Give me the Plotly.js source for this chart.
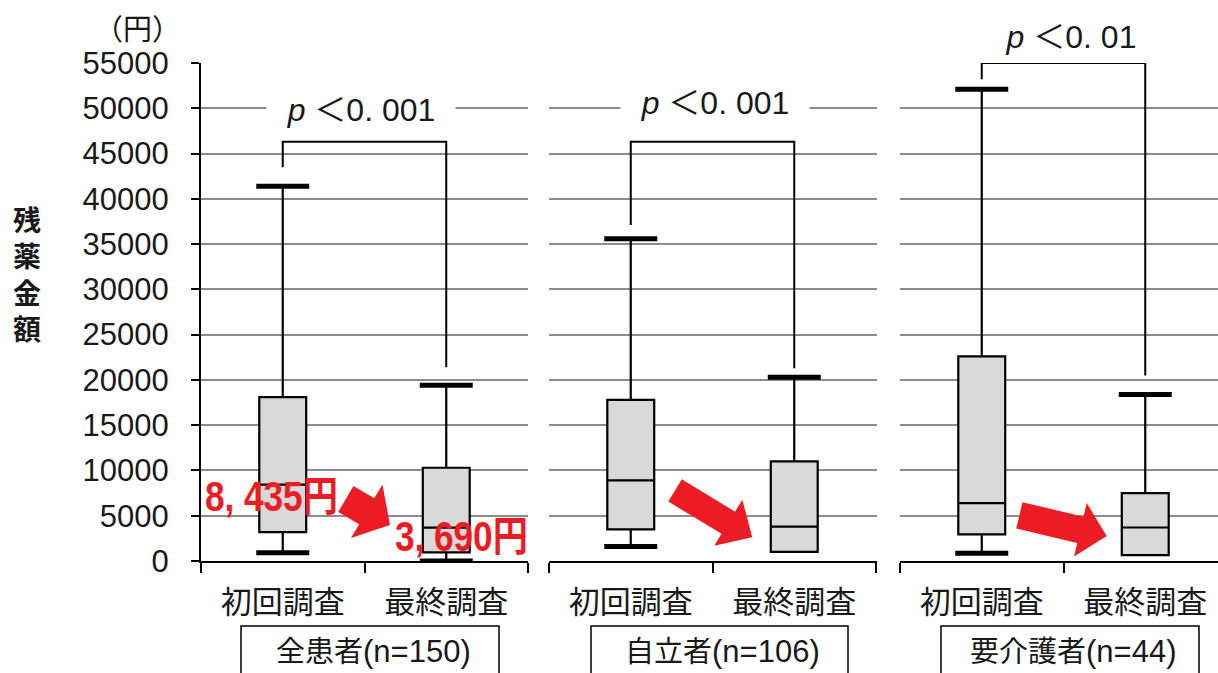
<!DOCTYPE html>
<html>
<head>
<meta charset="utf-8">
<script src="https://cdn.plot.ly/plotly-3.0.1.min.js"></script>
<style>
  html, body { margin: 0; padding: 0; background: #ffffff; }
  #chart { width: 1218px; height: 673px; }
</style>
</head>
<body>
<div id="chart"></div>
<script>
// ---- data ----
const categories = ['初回調査', '最終調査'];
const groupNames = ['全患者', '自立者', '要介護者'];
const groupN = [150, 106, 44];
// residual drug cost (yen), per group: [initial survey, final survey]
const lowerFence = [[900, 0], [1600, 1000], [850, 650]];
const q1 = [[3200, 950], [3500, 1000], [2950, 650]];
const median = [[8435, 3690], [8900, 3800], [6400, 3700]];
const q3 = [[18100, 10300], [17800, 11000], [22600, 7500]];
const upperFence = [[41400, 19400], [35600, 20300], [52100, 18400]];
const pValueText = ['0. 001', '0. 001', '0. 01'];
const yTicks = [0, 5000, 10000, 15000, 20000, 25000, 30000, 35000, 40000, 45000, 50000, 55000];

// ---- geometry ----
const W = 1218, H = 673;
const M = { l: 0, r: 0, t: 63, b: 112 };
const plotH = H - M.t - M.b;
const yMax = 55000;
const panelPx = [[201, 528], [549, 877], [900, 1218]];
const catPx = 163.5;
const xRanges = panelPx.map(p => [-0.5, -0.5 + (p[1] - p[0]) / catPx]);
const axX = ['x', 'x2', 'x3'];
const axY = ['y', 'y2', 'y3'];

const pxX = v => v / W;
const pxY = v => (H - M.b - v) / plotH;
// data <-> pixel helpers for a panel
const toPx = (i, x, y) => [panelPx[i][0] + (x - xRanges[i][0]) * catPx, (H - M.b) - y / yMax * plotH];
const toData = (i, px, py) => [xRanges[i][0] + (px - panelPx[i][0]) / catPx, ((H - M.b) - py) / plotH * yMax];

const RED = '#ed1c24';
const INK = '#1a1a1a';

// ---- box traces ----
const traces = groupNames.map((g, i) => ({
  type: 'box',
  name: g,
  x: categories,
  q1: q1[i],
  median: median[i],
  q3: q3[i],
  lowerfence: lowerFence[i],
  upperfence: upperFence[i],
  width: 0.287,
  whiskerwidth: 0,
  fillcolor: '#d9d9d9',
  line: { color: '#000000', width: 2.2 },
  boxpoints: false,
  hoverinfo: 'skip',
  xaxis: axX[i],
  yaxis: axY[i],
  showlegend: false
}));

const shapes = [];
const annotations = [];

// whisker caps (thick bars)
groupNames.forEach((g, i) => {
  categories.forEach((c, j) => {
    const caps = [upperFence[i][j]];
    if (lowerFence[i][j] < q1[i][j]) caps.push(lowerFence[i][j]);
    caps.forEach(v => shapes.push({
      type: 'line', xref: axX[i], yref: axY[i],
      x0: j - 0.162, x1: j + 0.162, y0: v, y1: v,
      line: { color: '#000000', width: 5 }, layer: 'above'
    }));
  });
});

// significance brackets
const bracketTop = [46300, 46300, 55000];
const bracketLeftEnd = [43500, 37100, 53200];
const bracketRightEnd = [21400, 21300, 20500];
groupNames.forEach((g, i) => {
  shapes.push({
    type: 'path', xref: axX[i], yref: axY[i],
    path: `M 0,${bracketLeftEnd[i]} L 0,${bracketTop[i]} L 1,${bracketTop[i]} L 1,${bracketRightEnd[i]}`,
    line: { color: '#000000', width: 2 }, layer: 'above'
  });
});

// p-value labels (placed in paper space so the top one may sit above the plot)
const pPos = [[0.479, 49800], [0.515, 50600], [0.546, 57900]];
groupNames.forEach((g, i) => {
  const [px, py] = toPx(i, pPos[i][0], pPos[i][1]);
  annotations.push({
    xref: 'paper', yref: 'paper', x: pxX(px), y: pxY(py),
    xanchor: 'center', yanchor: 'middle',
    text: '<i>p</i> ＜' + pValueText[i],
    showarrow: false, bgcolor: '#ffffff', width: 186, height: 46,
    font: { family: 'Liberation Sans, Arial, Noto Sans CJK JP', size: 32, color: INK }
  });
});

// median change labels
const yenLabel = v => String(v).replace(/\B(?=(\d{3})+(?!\d))/g, ', ') + '円';
const medLabelPos = [[-0.069, 7070], [1.093, 2760]];
categories.forEach((c, j) => {
  annotations.push({
    xref: 'x', yref: 'y', x: medLabelPos[j][0], y: medLabelPos[j][1],
    text: '<b>' + yenLabel(median[0][j]) + '</b>',
    showarrow: false,
    font: { family: 'Liberation Sans Narrow, Arial Narrow, Liberation Sans, Noto Sans CJK JP', size: 42, color: RED }
  });
});

// block arrows
const arrows = [
  { panel: 0, from: [0.386, 6850], to: [0.656, 3980], shaft: 30, head: 62, headLen: 27 },
  { panel: 1, from: [0.271, 7790], to: [0.743, 2620], shaft: 26, head: 54, headLen: 28 },
  { panel: 2, from: [0.230, 5050], to: [0.764, 2760], shaft: 27, head: 55, headLen: 27 }
];
arrows.forEach(a => {
  const i = a.panel;
  const [tx, ty] = toPx(i, a.from[0], a.from[1]);
  const [hx, hy] = toPx(i, a.to[0], a.to[1]);
  const len = Math.hypot(hx - tx, hy - ty);
  const dx = (hx - tx) / len, dy = (hy - ty) / len;
  const nx = -dy, ny = dx;
  const bx = hx - dx * a.headLen, by = hy - dy * a.headLen;
  const pts = [
    [tx + nx * a.shaft / 2, ty + ny * a.shaft / 2],
    [bx + nx * a.shaft / 2, by + ny * a.shaft / 2],
    [bx + nx * a.head / 2, by + ny * a.head / 2],
    [hx, hy],
    [bx - nx * a.head / 2, by - ny * a.head / 2],
    [bx - nx * a.shaft / 2, by - ny * a.shaft / 2],
    [tx - nx * a.shaft / 2, ty - ny * a.shaft / 2]
  ].map(p => toData(i, p[0], p[1]));
  shapes.push({
    type: 'path', xref: axX[i], yref: axY[i],
    path: 'M ' + pts.map(p => p[0].toFixed(4) + ',' + p[1].toFixed(1)).join(' L ') + ' Z',
    fillcolor: RED, line: { width: 0 }, layer: 'above'
  });
});

// group label boxes
const groupBoxPx = [[241, 499], [591, 848], [941, 1199]];
groupNames.forEach((g, i) => {
  shapes.push({
    type: 'rect', xref: 'paper', yref: 'paper',
    x0: pxX(groupBoxPx[i][0]), x1: pxX(groupBoxPx[i][1]),
    y0: pxY(626), y1: pxY(700),
    line: { color: '#000000', width: 1.5 }, fillcolor: 'rgba(0,0,0,0)'
  });
  annotations.push({
    xref: 'paper', yref: 'paper',
    x: pxX((groupBoxPx[i][0] + groupBoxPx[i][1]) / 2 + 3), y: pxY(651),
    text: g + '<span style="font-size:31px">(n=' + groupN[i] + ')</span>',
    showarrow: false, xanchor: 'center', yanchor: 'middle',
    font: { family: 'Liberation Sans, Noto Sans CJK JP', size: 29, color: INK }
  });
});

// axis title and unit
annotations.push({
  xref: 'paper', yref: 'paper', x: pxX(27), y: pxY(273),
  text: '残<br>薬<br>金<br>額', showarrow: false, xanchor: 'center', yanchor: 'middle',
  font: { family: 'Noto Sans CJK JP', size: 28, color: INK, weight: 'bold' }
});
annotations.push({
  xref: 'paper', yref: 'paper', x: pxX(137), y: pxY(27),
  text: '（円）', showarrow: false, xanchor: 'center', yanchor: 'middle',
  font: { family: 'Noto Sans CJK JP', size: 29, color: INK }
});

// ---- axes ----
const layout = {
  width: W, height: H,
  margin: M,
  paper_bgcolor: '#ffffff',
  plot_bgcolor: 'rgba(0,0,0,0)',
  showlegend: false,
  shapes: shapes,
  annotations: annotations
};

groupNames.forEach((g, i) => {
  const xk = i === 0 ? 'xaxis' : 'xaxis' + (i + 1);
  const yk = i === 0 ? 'yaxis' : 'yaxis' + (i + 1);
  layout[xk] = {
    type: 'category',
    domain: [pxX(panelPx[i][0]), pxX(panelPx[i][1])],
    range: xRanges[i],
    anchor: axY[i],
    showgrid: false, zeroline: false,
    showline: true, linecolor: '#000000', linewidth: 2,
    ticks: 'outside', tickson: 'boundaries', ticklen: 10, tickwidth: 2, tickcolor: '#000000',
    ticklabelstandoff: 13,
    tickfont: { family: 'Noto Sans CJK JP', size: 31, color: INK },
    fixedrange: true
  };
  layout[yk] = {
    domain: [0, 1],
    range: [0, yMax],
    anchor: axX[i],
    tickvals: yTicks,
    tickformat: 'd',
    showgrid: true, gridcolor: '#8c8c8c', gridwidth: 2,
    zeroline: false,
    showline: i === 0, linecolor: '#000000', linewidth: 2,
    ticks: i === 0 ? 'outside' : '', ticklen: 8, tickwidth: 2, tickcolor: '#000000',
    showticklabels: i === 0,
    ticklabelstandoff: 16,
    tickfont: { family: 'Liberation Sans, Arial', size: 31, color: INK },
    fixedrange: true
  };
});

Plotly.newPlot('chart', traces, layout, { staticPlot: true, displayModeBar: false }).then(gd => {
  // the yen labels are set in a condensed face: squeeze them horizontally about their centre
  const targetWidth = 133;
  gd.querySelectorAll('.annotation-text').forEach(t => {
    if (t.textContent.indexOf('円') < 0 || t.textContent.indexOf('(') >= 0 || t.textContent.length < 3) return;
    const fill = (t.style.fill || '').replace(/\s/g, '');
    if (fill !== 'rgb(237,28,36)') return;
    const bb = t.getBBox();
    const s = Math.min(1, targetWidth / bb.width);
    const cx = bb.x + bb.width / 2;
    t.setAttribute('transform', `translate(${cx},0) scale(${s},1) translate(${-cx},0)`);
  });
});
</script>
</body>
</html>
